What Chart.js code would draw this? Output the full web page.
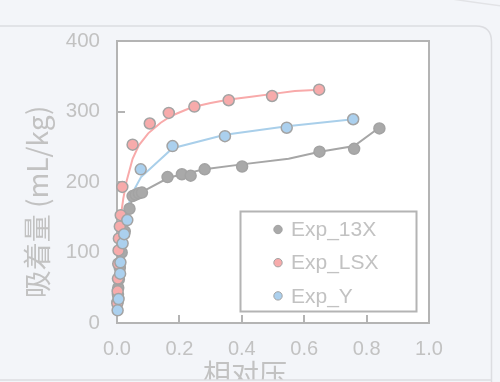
<!DOCTYPE html>
<html>
<head>
<meta charset="utf-8">
<script src="https://cdn.jsdelivr.net/npm/chart.js@4/dist/chart.umd.min.js"></script>
<style>
  html, body { margin: 0; padding: 0; background: #f3f5f9; overflow: hidden; }
  canvas { display: block; }
</style>
</head>
<body>
<canvas id="chart" width="500" height="382"></canvas>
<script>
// Adsorption isotherms: relative pressure vs. uptake (mL/kg)
const seriesNames = ['Exp_13X', 'Exp_LSX', 'Exp_Y'];

// measured points
const p13X = [0.002, 0.003, 0.004, 0.006, 0.009, 0.015, 0.025, 0.040, 0.050, 0.060, 0.070, 0.080, 0.162, 0.208, 0.236, 0.281, 0.401, 0.649, 0.760, 0.841];
const q13X = [30, 40, 50, 62, 78, 100, 130, 162, 180, 182, 184, 185, 207, 211, 209, 218, 222, 243, 247, 276];

const pLSX = [0.001, 0.002, 0.003, 0.004, 0.005, 0.006, 0.009, 0.012, 0.017, 0.050, 0.105, 0.166, 0.248, 0.358, 0.497, 0.648];
const qLSX = [28, 45, 63, 84, 103, 120, 137, 153, 193, 253, 283, 298, 307, 316, 322, 331];

const pY = [0.002, 0.005, 0.010, 0.011, 0.018, 0.023, 0.033, 0.076, 0.178, 0.346, 0.544, 0.757];
const qY = [18, 34, 70, 86, 113, 126, 146, 218, 251, 265, 277, 289];

// fitted curves
const fit13X_p = [0.001, 0.005, 0.015, 0.030, 0.040, 0.050, 0.085, 0.165, 0.21, 0.24, 0.28, 0.40, 0.55, 0.65, 0.76, 0.84];
const fit13X_q = [20, 60, 110, 150, 162, 178, 187, 206, 211, 214, 218, 225, 233, 243, 251, 277];

const fitLSX_p = [0.001, 0.003, 0.006, 0.010, 0.015, 0.020, 0.030, 0.050, 0.070, 0.100, 0.140, 0.175, 0.240, 0.300, 0.360, 0.430, 0.500, 0.570, 0.650];
const fitLSX_q = [25, 60, 100, 135, 160, 176, 200, 233, 252, 269, 284, 294, 306, 312, 317, 321, 325, 329, 331];

const fitY_p = [0.002, 0.010, 0.020, 0.033, 0.050, 0.077, 0.178, 0.346, 0.545, 0.757];
const fitY_q = [15, 65, 115, 162, 185, 207, 248, 267, 279, 289];

const xTicks = [0, 0.2, 0.4, 0.6, 0.8, 1.0];
const yTicks = [0, 100, 200, 300, 400];
const xTitle = '相对压';
const yTitle = '吸着量 (mL/kg)';

const fillColors = ['#a9a9a9', '#f7abab', '#abd0ee'];
const lineColors = ['#a6a6a6', '#f8aaaa', '#a9cfea'];
const pointEdge = '#a3a3a3';
const textColor = '#c2c2c2';
const frameColor = '#b4b4b4';
const bgColor = '#f3f5f9';
const latin = "'Liberation Sans', Arial, 'Noto Sans CJK SC', sans-serif";
const cjk = "'Noto Sans CJK SC', 'Liberation Sans', sans-serif";

const zip = (xs, ys) => xs.map((x, i) => ({ x: x, y: ys[i] }));

const pointSets = [[p13X, q13X], [pLSX, qLSX], [pY, qY]];
const fitSets = [[fit13X_p, fit13X_q], [fitLSX_p, fitLSX_q], [fitY_p, fitY_q]];
const pointOrder = [2, 1, 0];

const datasets = [];
pointSets.forEach((s, i) => {
  datasets.push({
    label: seriesNames[i],
    data: zip(s[0], s[1]),
    showLine: false,
    pointRadius: 5.5,
    pointBorderWidth: 1.5,
    pointBackgroundColor: fillColors[i],
    pointBorderColor: pointEdge,
    order: pointOrder[i],
    clip: false
  });
});
fitSets.forEach((s, i) => {
  datasets.push({
    label: seriesNames[i] + ' fit',
    data: zip(s[0], s[1]),
    showLine: true,
    pointRadius: 0,
    borderColor: lineColors[i],
    borderWidth: 2,
    tension: 0,
    order: 3 + i,
    clip: false,
    isFit: true
  });
});

// page backdrop, panel outline and white plot area
const backdrop = {
  id: 'backdrop',
  beforeDraw(chart) {
    const ctx = chart.ctx;
    const a = chart.chartArea;
    ctx.save();
    ctx.fillStyle = bgColor;
    ctx.fillRect(0, 0, chart.width, chart.height);
    ctx.fillStyle = '#ffffff';
    ctx.fillRect(a.left, a.top, a.right - a.left, a.bottom - a.top);
    ctx.restore();
  },
  beforeDatasetsDraw(chart) {
    const ctx = chart.ctx;
    const a = chart.chartArea;
    ctx.save();
    ctx.strokeStyle = frameColor;
    ctx.lineWidth = 2;
    ctx.strokeRect(a.left, a.top, a.right - a.left, a.bottom - a.top);
    ctx.restore();
  },
  afterDraw(chart) {
    const ctx = chart.ctx;
    ctx.save();
    // axis titles
    ctx.fillStyle = textColor;
    ctx.font = '28px ' + cjk;
    ctx.textAlign = 'center';
    ctx.textBaseline = 'middle';
    ctx.fillText(xTitle, 245, 374);
    ctx.translate(37, 202);
    ctx.rotate(-Math.PI / 2);
    ctx.fillText(yTitle, 0, 0);
    ctx.setTransform(1, 0, 0, 1, 0, 0);
    // panel edges
    ctx.fillStyle = bgColor;
    ctx.fillRect(0, 380, chart.width, 2);
    ctx.strokeStyle = '#dcdde1';
    ctx.lineWidth = 1.5;
    ctx.beginPath();
    ctx.moveTo(-10, 26);
    ctx.lineTo(476, 26);
    ctx.quadraticCurveTo(491.5, 26, 491.5, 42);
    ctx.lineTo(491.5, 390);
    ctx.stroke();
    ctx.beginPath();
    ctx.moveTo(0, 380);
    ctx.lineTo(491.5, 380);
    ctx.stroke();
    ctx.strokeStyle = '#e2e3e6';
    ctx.beginPath();
    ctx.moveTo(452, -1);
    ctx.quadraticCurveTo(478, 3, 502, 6);
    ctx.stroke();
    ctx.restore();
  }
};

// boxed legend inside the plot, listing the measured series
const boxLegend = {
  id: 'boxLegend',
  afterDatasetsDraw(chart) {
    const ctx = chart.ctx;
    const box = { x: 240.5, y: 211.5, w: 176, h: 100 };
    ctx.save();
    ctx.fillStyle = '#ffffff';
    ctx.fillRect(box.x, box.y, box.w, box.h);
    ctx.strokeStyle = frameColor;
    ctx.lineWidth = 2;
    ctx.strokeRect(box.x, box.y, box.w, box.h);
    ctx.font = '21px ' + latin;
    ctx.textAlign = 'left';
    ctx.textBaseline = 'middle';
    const items = chart.data.datasets.filter(d => !d.isFit);
    items.forEach((d, i) => {
      const cy = 229.5 + i * 33.2;
      ctx.beginPath();
      ctx.arc(278, cy, 4.2, 0, Math.PI * 2);
      ctx.fillStyle = d.pointBackgroundColor;
      ctx.fill();
      ctx.lineWidth = 1;
      ctx.strokeStyle = pointEdge;
      ctx.stroke();
      ctx.fillStyle = textColor;
      ctx.fillText(d.label, 291, cy + 1);
    });
    ctx.restore();
  }
};

new Chart(document.getElementById('chart'), {
  type: 'scatter',
  data: { datasets: datasets },
  options: {
    responsive: false,
    animation: false,
    devicePixelRatio: 1,
    layout: { padding: { left: 0, top: 41, right: 71, bottom: 0 } },
    plugins: { legend: { display: false }, tooltip: { enabled: false } },
    scales: {
      x: {
        type: 'linear',
        min: 0,
        max: 1,
        afterBuildTicks: s => { s.ticks = xTicks.map(v => ({ value: v })); },
        afterFit: s => { s.height = 59; },
        border: { display: false },
        grid: { drawOnChartArea: false, drawTicks: true, tickLength: -8, color: frameColor, lineWidth: 2 },
        ticks: {
          padding: 22,
          color: textColor,
          font: { family: latin, size: 20 },
          maxRotation: 0,
          autoSkip: false,
          callback: v => Number(v).toFixed(1)
        }
      },
      y: {
        type: 'linear',
        min: 0,
        max: 400,
        afterBuildTicks: s => { s.ticks = yTicks.map(v => ({ value: v })); },
        afterFit: s => { s.width = 117; },
        border: { display: false },
        grid: { drawOnChartArea: false, drawTicks: true, tickLength: -8, color: frameColor, lineWidth: 2 },
        ticks: {
          padding: 25,
          color: textColor,
          font: { family: latin, size: 20.5 },
          autoSkip: false,
          callback: v => String(v)
        }
      }
    }
  },
  plugins: [backdrop, boxLegend]
});
</script>
</body>
</html>
